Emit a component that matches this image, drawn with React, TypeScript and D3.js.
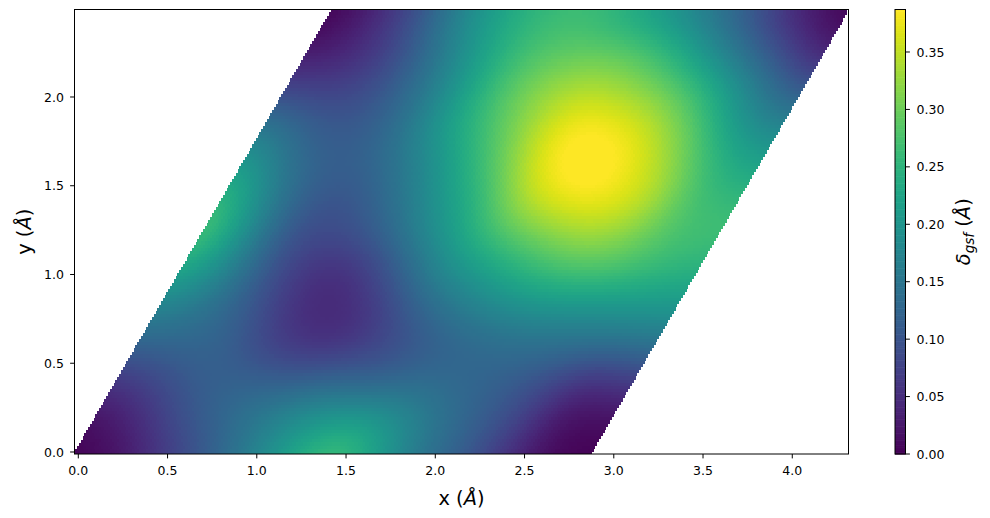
import React from "react";
import * as d3 from "d3";

// Values, on a 13×13 grid of fractional lattice coordinates (u rows, v columns), in Å
const u00 = [0, 0.015, 0.06, 0.125, 0.175, 0.23, 0.285, 0.26, 0.21, 0.15, 0.075, 0.02, 0.0];
const u01 = [0.015, 0.05, 0.09, 0.13, 0.15, 0.18, 0.185, 0.17, 0.14, 0.11, 0.065, 0.04, 0.04];
const u02 = [0.06, 0.1, 0.12, 0.125, 0.11, 0.1, 0.095, 0.105, 0.11, 0.1, 0.09, 0.08, 0.1];
const u03 = [0.105, 0.135, 0.125, 0.075, 0.055, 0.05, 0.08, 0.1, 0.125, 0.135, 0.14, 0.15, 0.18];
const u04 = [0.16, 0.17, 0.115, 0.05, 0.035, 0.05, 0.11, 0.145, 0.17, 0.205, 0.205, 0.22, 0.23];
const u05 = [0.225, 0.2, 0.125, 0.055, 0.06, 0.11, 0.17, 0.2, 0.23, 0.265, 0.28, 0.27, 0.26];
const u06 = [0.285, 0.21, 0.115, 0.085, 0.12, 0.18, 0.225, 0.255, 0.3, 0.325, 0.325, 0.29, 0.265];
const u07 = [0.225, 0.185, 0.13, 0.115, 0.16, 0.215, 0.28, 0.345, 0.385, 0.385, 0.345, 0.29, 0.235];
const u08 = [0.155, 0.145, 0.125, 0.13, 0.185, 0.25, 0.315, 0.385, 0.41, 0.385, 0.325, 0.27, 0.195];
const u09 = [0.115, 0.115, 0.115, 0.14, 0.2, 0.275, 0.34, 0.385, 0.385, 0.35, 0.29, 0.215, 0.145];
const u10 = [0.06, 0.075, 0.09, 0.14, 0.2, 0.28, 0.32, 0.35, 0.325, 0.285, 0.23, 0.15, 0.09];
const u11 = [0.01, 0.01, 0.05, 0.14, 0.205, 0.26, 0.275, 0.27, 0.25, 0.205, 0.16, 0.09, 0.03];
const u12 = [0, 0.015, 0.07, 0.15, 0.205, 0.245, 0.27, 0.255, 0.215, 0.17, 0.1, 0.03, 0.0];
const gridRows = [u00, u01, u02, u03, u04, u05, u06, u07, u08, u09, u10, u11, u12];

const latticeA = [2.86, 0];
const latticeB = [1.43, 2.477];
const colorTicks = [0, 0.05, 0.1, 0.15, 0.2, 0.25, 0.3, 0.35];
const colorMax = 0.387;

const W = 990, H = 518;
const L = 74.5, R = 848.5, T = 9.5, B = 454;
const CL = 895, CR = 905.5;
const FONT = "'DejaVu Sans', sans-serif";
const tickSize = 12.5, labelSize = 19.4;
const HALF = 3;

const x = d3.scaleLinear().domain([-0.0213, 4.315]).range([L, R]);
const y = d3.scaleLinear().domain([-0.0113, 2.4929]).range([B, T]);
const cScale = d3.scaleLinear().domain([0, colorMax]).range([B, T]);
const color = (v: number) => d3.interpolateViridis(Math.max(0, Math.min(1, v / colorMax)));

const clampIdx = (k: number) => Math.max(0, Math.min(12, k));
const at = (i: number, j: number) => gridRows[clampIdx(i)][clampIdx(j)];
// Uniform cubic B-spline weights: smooth display resampling of the table above
const basis = (t: number) => [
  (1 - t) ** 3 / 6,
  (3 * t ** 3 - 6 * t ** 2 + 4) / 6,
  (-3 * t ** 3 + 3 * t ** 2 + 3 * t + 1) / 6,
  t ** 3 / 6,
];
function sample(u: number, v: number) {
  const fu = u * 12, fv = v * 12;
  const i = Math.floor(fu), j = Math.floor(fv);
  const bu = basis(fu - i), bv = basis(fv - j);
  let s = 0;
  for (let a = 0; a < 4; a++) for (let b = 0; b < 4; b++) s += bu[a] * bv[b] * at(i + a - 1, j + b - 1);
  return s;
}

const steps = d3.range(0, 141).map((k) => k / 140);
const markers = steps.flatMap((v) =>
  steps.map((u) => ({
    px: x(u * latticeA[0] + v * latticeB[0]),
    py: y(u * latticeA[1] + v * latticeB[1]),
    fill: color(sample(u, v)),
  }))
);
const barSteps = d3.range(0, 256);

export default function App() {
  return (
    <svg
      width={W}
      height={H}
      viewBox={`0 0 ${W} ${H}`}
      style={{ position: "absolute", left: 0, top: 0, background: "#fff" }}
      fontFamily={FONT}
    >
      <defs>
        <clipPath id="axes">
          <rect x={L} y={T} width={R - L} height={B - T} />
        </clipPath>
      </defs>
      <g clipPath="url(#axes)" shapeRendering="crispEdges">
        {markers.map((m, k) => (
          <rect key={k} x={m.px - HALF} y={m.py - HALF} width={HALF * 2} height={HALF * 2} fill={m.fill} />
        ))}
      </g>
      <rect x={L} y={T} width={R - L} height={B - T} fill="none" stroke="#000" strokeWidth={1} />
      {x.ticks(9).map((t) => (
        <g key={t}>
          <line x1={x(t)} x2={x(t)} y1={B} y2={B + 4.4} stroke="#000" />
          <text x={x(t)} y={B + 21} textAnchor="middle" fontSize={tickSize} fill="#000">
            {t.toFixed(1)}
          </text>
        </g>
      ))}
      {y.ticks(5).map((t) => (
        <g key={t}>
          <line x1={L - 4.4} x2={L} y1={y(t)} y2={y(t)} stroke="#000" />
          <text x={L - 10.5} y={y(t) + 4.6} textAnchor="end" fontSize={tickSize} fill="#000">
            {t.toFixed(1)}
          </text>
        </g>
      ))}
      <text x={(L + R) / 2} y={505} textAnchor="middle" fontSize={labelSize} fill="#000">
        x (<tspan fontStyle="italic">Å</tspan>)
      </text>
      <text
        transform={`translate(31,${(T + B) / 2}) rotate(-90)`}
        textAnchor="middle"
        fontSize={labelSize}
        fill="#000"
      >
        y (<tspan fontStyle="italic">Å</tspan>)
      </text>

      {barSteps.map((k) => {
        const v0 = (k / 256) * colorMax, v1 = ((k + 1) / 256) * colorMax;
        return (
          <rect
            key={k}
            x={CL}
            width={CR - CL}
            y={cScale(v1)}
            height={cScale(v0) - cScale(v1) + 0.6}
            fill={color(((k + 0.5) / 256) * colorMax)}
          />
        );
      })}
      <rect x={CL} y={T} width={CR - CL} height={B - T} fill="none" stroke="#000" strokeWidth={1} />
      {colorTicks.map((t) => (
        <g key={t}>
          <line x1={CR} x2={CR + 4.4} y1={cScale(t)} y2={cScale(t)} stroke="#000" />
          <text x={CR + 11} y={cScale(t) + 4.6} fontSize={tickSize} fill="#000">
            {t.toFixed(2)}
          </text>
        </g>
      ))}
      <text
        transform={`translate(970,${(T + B) / 2}) rotate(-90)`}
        textAnchor="middle"
        fontSize={labelSize}
        fill="#000"
      >
        <tspan fontStyle="italic">δ</tspan>
        <tspan fontStyle="italic" fontSize={13.6} dy={4}>gsf</tspan>
        <tspan dy={-4}> (</tspan>
        <tspan fontStyle="italic">Å</tspan>)
      </text>
    </svg>
  );
}
